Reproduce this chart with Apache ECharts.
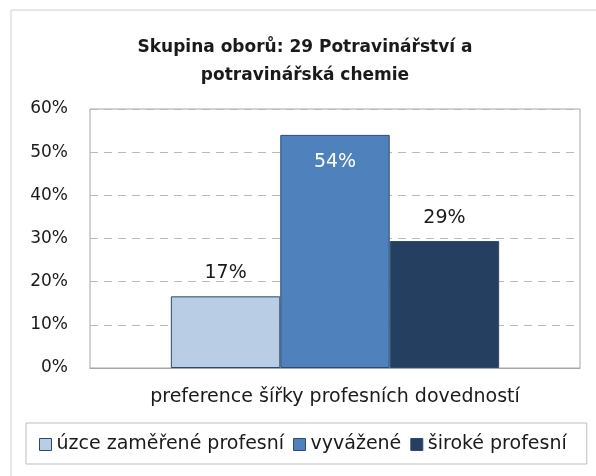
<!DOCTYPE html>
<html>
<head>
<meta charset="utf-8">
<script src="https://cdn.jsdelivr.net/npm/echarts@6/dist/echarts.min.js"></script>
<style>
  html, body { margin: 0; padding: 0; background: #fff; }
  #chart { width: 596px; height: 476px; }
</style>
</head>
<body>
<div id="chart"></div>
<script>
// data
let titleText = "Skupina oborů: 29 Potravinářství a\npotravinářská chemie";
let categories = [""];
let axisName = "preference šířky profesních dovedností";
let seriesNames = ["úzce zaměřené profesní", "vyvážené", "široké profesní"];
let seriesValues = [[16.6], [54.0], [29.4]];
let seriesColors = ["#b9cde5", "#4f81bd", "#243f60"];
let yTicks = [0, 10, 20, 30, 40, 50, 60];

let font = "'DejaVu Sans', 'Liberation Sans', sans-serif";

let chart = echarts.init(document.getElementById("chart"), null, { renderer: "canvas" });

let series = seriesNames.map((name, i) => {
    let inside = i == 1;
    return {
        name: name,
        type: "bar",
        data: seriesValues[i],
        barGap: "0%",
        barCategoryGap: "33%",
        itemStyle: {
            color: seriesColors[i],
            borderColor: "#2c4a6e",
            borderWidth: 1
        },
        label: {
            show: true,
            position: inside ? "insideTop" : "top",
            distance: inside ? 18 : 14,
            color: inside ? "#ffffff" : "#1a1a1a",
            fontFamily: font,
            fontSize: 19,
            formatter: (p) => Math.round(p.value) + "%"
        },
        emphasis: { disabled: true }
    };
});

chart.setOption({
    animation: false,
    backgroundColor: "#ffffff",
    title: {
        text: titleText,
        left: 300,
        top: 29,
        textAlign: "center",
        textStyle: {
            fontFamily: font,
            fontSize: 17,
            fontWeight: "bold",
            color: "#1a1a1a",
            lineHeight: 28
        }
    },
    graphic: [{
        type: "rect",
        shape: { x: 11, y: 10, width: 620, height: 520 },
        style: { fill: "none", stroke: "#d0d0d0", lineWidth: 1 },
        silent: true,
        z: -1
    }],
    grid: {
        left: 90,
        top: 109,
        width: 490,
        height: 259,
        show: true,
        borderColor: "#a6a6a6",
        borderWidth: 1,
        containLabel: false
    },
    legend: {
        left: 26,
        top: 423,
        padding: [12, 20, 10, 13],
        itemGap: 9,
        itemWidth: 12,
        itemHeight: 12,
        itemStyle: { borderColor: "#2c4a6e", borderWidth: 1 },
        icon: "rect",
        borderColor: "#bfbfbf",
        borderWidth: 1,
        textStyle: { fontFamily: font, fontSize: 19, color: "#1a1a1a" },
        data: seriesNames
    },
    xAxis: {
        type: "category",
        data: categories,
        name: axisName,
        nameLocation: "middle",
        nameGap: 20,
        nameTextStyle: { fontFamily: font, fontSize: 19, color: "#1a1a1a" },
        axisLine: { show: true, lineStyle: { color: "#a6a6a6" } },
        axisTick: { show: false },
        axisLabel: { show: false }
    },
    yAxis: {
        type: "value",
        min: yTicks[0],
        max: yTicks[yTicks.length - 1],
        interval: 10,
        axisLine: { show: false },
        axisTick: { show: false },
        axisLabel: {
            formatter: "{value}%",
            fontFamily: font,
            fontSize: 17,
            color: "#1a1a1a",
            margin: 22
        },
        splitLine: { lineStyle: { color: "#b8b8b8", type: [8, 6] } }
    },
    series: series
});
</script>
</body>
</html>
